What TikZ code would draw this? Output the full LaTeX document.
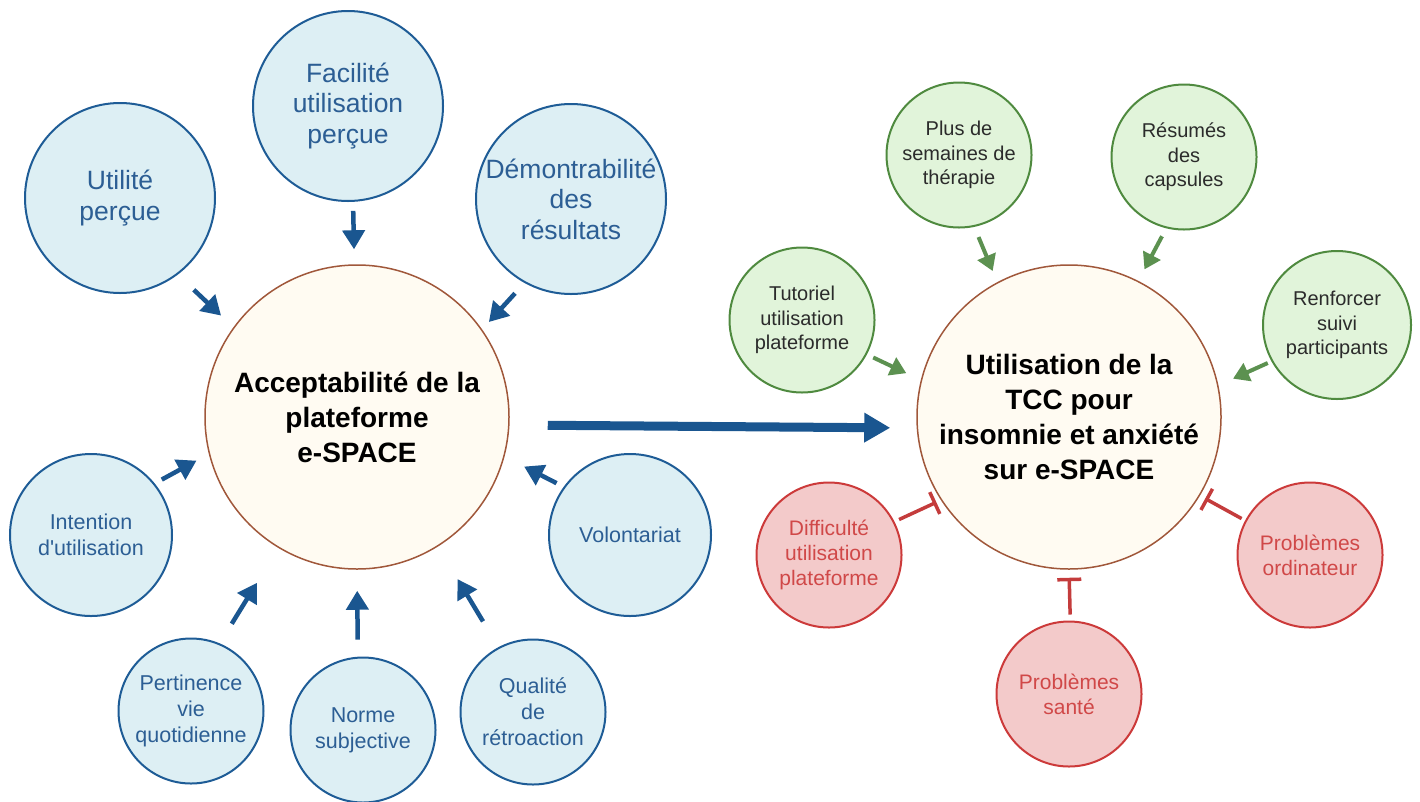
\documentclass[tikz,border=0pt]{standalone}
\usepackage{fontspec}
\setmainfont{Liberation Sans}[Ligatures=TeXOff]
\usetikzlibrary{arrows.meta}

\definecolor{blufill}{HTML}{DDEFF4}
\definecolor{bluline}{HTML}{1E5C96}
\definecolor{blutext}{HTML}{2C5E94}
\definecolor{arrblue}{HTML}{1A5690}
\definecolor{hubfill}{HTML}{FFFBF2}
\definecolor{hubline}{HTML}{A0573A}
\definecolor{grnfill}{HTML}{E1F4DA}
\definecolor{grnline}{HTML}{4F8A3F}
\definecolor{grntext}{HTML}{2B2B2B}
\definecolor{arrgreen}{HTML}{5C9150}
\definecolor{redfill}{HTML}{F3CACA}
\definecolor{redline}{HTML}{CC3A3A}
\definecolor{redtext}{HTML}{D04848}
\definecolor{barred}{HTML}{C43C3C}

\begin{document}
\begin{tikzpicture}
[every node/.style={inner sep=0pt, align=center},
 hub/.style={circle, minimum size=304pt, fill=hubfill, draw=hubline, line width=1.5pt, font=\fontsize{28}{35}\selectfont\bfseries},
 bluebig/.style={circle, minimum size=190pt, fill=blufill, draw=bluline, line width=2pt, text=blutext, font=\fontsize{26.5}{30.5}\selectfont},
 bluesmall/.style={bluebig, minimum size=145pt, font=\fontsize{21.5}{26}\selectfont},
 greenbub/.style={circle, minimum size=145pt, fill=grnfill, draw=grnline, line width=2pt, text=grntext, font=\fontsize{20}{24.5}\selectfont},
 redbub/.style={circle, minimum size=145pt, fill=redfill, draw=redline, line width=2pt, text=redtext, font=\fontsize{21}{25}\selectfont},
 bluearr/.style={line width=4.5pt, -{Triangle[length=19pt, width=22pt]}, color=arrblue},
 greenarr/.style={line width=4pt, -{Triangle[length=16pt, width=19pt]}, color=arrgreen},
 redbar/.style={line width=3.5pt, -{Bar[width=24pt]}, color=barred},
 bigarr/.style={line width=9pt, -{Triangle[length=26pt, width=28pt]}, color=arrblue}]
\useasboundingbox (0pt, 0pt) rectangle (1420pt, -801pt);

% acceptabilite
\node (accept) [hub] at (357pt, -417pt) {Acceptabilité de la\\plateforme\\e-SPACE};
\node (util) [bluebig] at (120pt, -198pt) {Utilité\\perçue};
\node (facil) [bluebig] at (348pt, -106pt) {Facilité\\utilisation\\perçue};
\node (demo) [bluebig] at (571pt, -199pt) {Démontrabilité\\des\\résultats};
\node (intent) [bluesmall, minimum size=162pt] at (91pt, -535pt) {Intention\\d'utilisation};
\node (volont) [bluesmall, minimum size=162pt] at (630pt, -535pt) {Volontariat};
\node (pert) [bluesmall] at (191pt, -711pt) {Pertinence\\vie\\quotidienne};
\node (norme) [bluesmall] at (363pt, -730pt) {Norme\\subjective};
\node (qual) [bluesmall] at (533pt, -712pt) {Qualité\\de\\rétroaction};

% utilisation
\node (use) [hub] at (1069pt, -417pt) {Utilisation de la\\TCC pour\\insomnie et anxiété\\sur e-SPACE};
\node (plus) [greenbub] at (959pt, -155pt) {Plus de\\semaines de\\thérapie};
\node (resume) [greenbub] at (1184pt, -157pt) {Résumés\\des\\capsules};
\node (tuto) [greenbub] at (802pt, -320pt) {Tutoriel\\utilisation\\plateforme};
\node (renf) [greenbub, minimum size=148pt] at (1337pt, -325pt) {Renforcer\\suivi\\participants};
\node (diff) [redbub] at (829pt, -555pt) {Difficulté\\utilisation\\plateforme};
\node (sante) [redbub] at (1069pt, -694pt) {Problèmes\\santé};
\node (ordi) [redbub] at (1310pt, -555pt) {Problèmes\\ordinateur};

\draw [bluearr, shorten <=22pt, shorten >=17pt] (util.-53) to (accept.144);
\draw [bluearr, shorten <=9pt, shorten >=15pt] (facil.-87) to (accept.91);
\draw [bluearr, shorten <=14pt, shorten >=10pt] (demo.-119) to (accept.35);
\draw [bluearr, shorten <=8pt, shorten >=14pt] (intent.39) to (accept.194);
\draw [bluearr, shorten <=8pt, shorten >=22pt] (volont.144) to (accept.-15);
\draw [bluearr, shorten <=23pt, shorten >=41pt] (pert.67) to (accept.-121);
\draw [bluearr, shorten <=17pt, shorten >=21pt] (norme.94) to (accept.-90);
\draw [bluearr, shorten <=30pt, shorten >=38pt] (qual.118) to (accept.-58);

\draw [greenarr, shorten <=11pt, shorten >=12pt] (plus.-78) to (use.118);
\draw [greenarr, shorten <=9pt, shorten >=13pt] (resume.-104) to (use.63);
\draw [greenarr, shorten <=7pt, shorten >=16pt] (tuto.-28) to (use.166);
\draw [greenarr, shorten <=4pt, shorten >=16pt] (renf.-151) to (use.12);
\draw [redbar, shorten <=5pt, shorten >=5pt] (diff.27) to (use.-147);
\draw [redbar, shorten <=6pt, shorten >=8pt] (sante.89) to (use.-90);
\draw [redbar, shorten <=4pt, shorten >=6pt] (ordi.152) to (use.-31);

\draw [bigarr, shorten <=38pt, shorten >=26pt] ([yshift=-8pt]accept.east) to ([yshift=-11pt]use.west);
\end{tikzpicture}
\end{document}
